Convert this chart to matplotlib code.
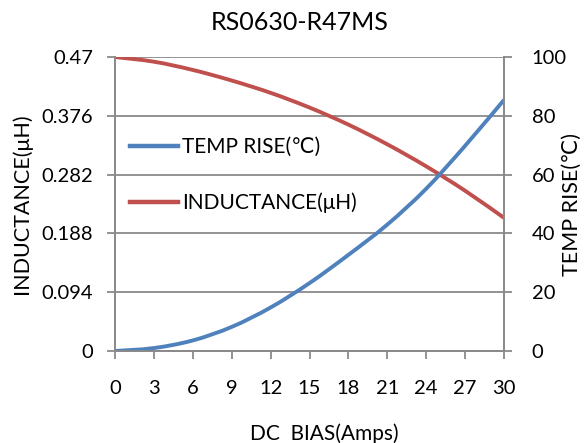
import matplotlib
matplotlib.use("Agg")
import matplotlib.pyplot as plt
from matplotlib.path import Path
from matplotlib.patches import PathPatch
from matplotlib.lines import Line2D

plt.rcParams['font.family'] = ['Lato', 'DejaVu Sans']

title = "RS0630-R47MS"
current = [0, 3, 6, 9, 12, 15, 18, 21, 24, 27, 30]
temp_rise = [0, 1.0, 3.6, 8.2, 14.8, 23.1, 32.7, 43.0, 55.2, 69.8, 85.4]
inductance = [0.4700, 0.4625, 0.4493, 0.4324, 0.4127, 0.3892, 0.3619, 0.3304, 0.2952, 0.2562, 0.2129]
left_ticks = [0, 0.094, 0.188, 0.282, 0.376, 0.47]
left_labels = ["0", "0.094", "0.188", "0.282", "0.376", "0.47"]
right_ticks = [0, 20, 40, 60, 80, 100]
x_ticks = [0, 3, 6, 9, 12, 15, 18, 21, 24, 27, 30]
legend_labels = ["TEMP RISE(℃)", "INDUCTANCE(μH)"]

blue = "#4F81BD"
red = "#C0504D"
gray = "#8A8A8A"


def smooth_path(xs, ys):
    """Excel-style smoothed line (Catmull-Rom as cubic Bezier) through the data."""
    pts = list(zip(xs, ys))
    n = len(pts)
    verts = [pts[0]]
    codes = [Path.MOVETO]
    for i in range(n - 1):
        p0 = pts[i - 1] if i > 0 else pts[i]
        p1 = pts[i]
        p2 = pts[i + 1]
        p3 = pts[i + 2] if i + 2 < n else pts[i + 1]
        c1 = (p1[0] + (p2[0] - p0[0]) / 6, p1[1] + (p2[1] - p0[1]) / 6)
        c2 = (p2[0] - (p3[0] - p1[0]) / 6, p2[1] - (p3[1] - p1[1]) / 6)
        verts += [c1, c2, p2]
        codes += [Path.CURVE4] * 3
    return Path(verts, codes)


fig = plt.figure(figsize=(5.86, 4.43), dpi=100)
ax = fig.add_axes([115/586, (443-351)/443, (504-115)/586, (351-57)/443])
ax2 = ax.twinx()

ax.set_xlim(0, 30)
ax.set_ylim(0, 0.47)
ax2.set_ylim(0, 100)

ax.set_yticks(left_ticks)
ax.set_yticklabels(left_labels)
ax2.set_yticks(right_ticks)
ax.set_xticks(x_ticks)

ax.grid(axis='y', color=gray, linewidth=1.3)
ax.set_axisbelow(True)

for a in (ax, ax2):
    for s in a.spines.values():
        s.set_color(gray)
        s.set_linewidth(1.3)
    a.spines['top'].set_visible(False)
    a.tick_params(colors=gray, labelcolor='black', labelsize=14.5, width=1.3, length=6)
ax.tick_params(axis='y', pad=10)
ax.tick_params(axis='x', pad=15)
ax2.tick_params(axis='y', pad=14)

ax.add_patch(PathPatch(smooth_path(current, inductance), fill=False, edgecolor=red,
                       linewidth=2.8, capstyle='butt', transform=ax.transData))
ax2.add_patch(PathPatch(smooth_path(current, temp_rise), fill=False, edgecolor=blue,
                        linewidth=2.8, capstyle='butt', transform=ax2.transData))

handles = [Line2D([], [], color=blue, linewidth=3.2),
           Line2D([], [], color=red, linewidth=3.2)]
ax2.legend(handles, legend_labels, loc='center left',
           bbox_to_anchor=(0.0386, 0.598), frameon=False, fontsize=15,
           borderpad=0, borderaxespad=0,
           handlelength=2.3, handletextpad=0.2, labelspacing=1.7)

ax.set_ylabel("INDUCTANCE(μH)", fontsize=15.5)
ax.yaxis.set_label_coords(-0.213, 0.5)
ax2.set_ylabel("TEMP RISE(℃)", fontsize=15.5)
ax2.yaxis.set_label_coords(1.15, 0.5)
ax.set_xlabel("DC  BIAS(Amps)", fontsize=15)
ax.xaxis.set_label_coords(0.537, -0.245)
fig.text(0.512, 0.949, title, ha='center', va='center', fontsize=18)

fig.savefig("out.png", dpi=100)
